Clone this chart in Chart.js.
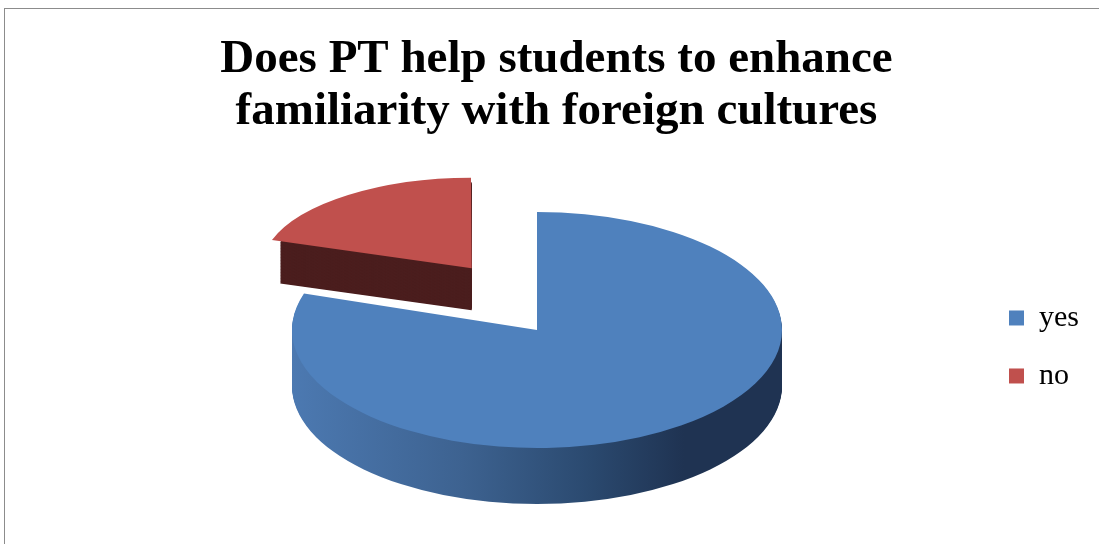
<!DOCTYPE html>
<html>
<head>
<meta charset="utf-8">
<script src="https://cdn.jsdelivr.net/npm/chart.js@4.4.1/dist/chart.umd.min.js"></script>
<style>
    html, body { margin: 0; padding: 0; background: #ffffff; }
    #wrap { position: relative; width: 1099px; height: 544px; overflow: hidden; }
    #frame {
        position: absolute; left: 4px; top: 8px; width: 1100px; height: 560px;
        border-left: 1px solid #8c8c8c; border-top: 1px solid #8c8c8c;
        pointer-events: none;
    }
</style>
</head>
<body>
<div id="wrap">
    <canvas id="pieChart" width="1099" height="544"></canvas>
    <div id="frame"></div>
</div>
<script>
// chart data
const categories = ['yes', 'no'];
const values = [80, 20];
const titleLines = ['Does PT help students to enhance', 'familiarity with foreign cultures'];

const topColors = ['#4f81bd', '#c0504d'];

// where the tilted pie sits on the page (screen px)
const PIE = { cx: 537, cy: 330, rx: 245, ry: 118, depth: 56 };
// the pulled-out slice sits further back, so it is drawn a bit smaller
const PERSP = [null, { kx: 0.84, ky: 0.75, vx: 460, vy: 208 }];

// fake 3d: squash the pie into an ellipse and paint a wall under each slice
const pie3d = {
    id: 'pie3d',
    beforeDatasetsDraw(chart) {
        const ctx = chart.ctx;
        const arcs = chart.getDatasetMeta(0).data;
        const a0 = arcs[0];
        const sx = PIE.rx / a0.outerRadius;
        const sy = PIE.ry / a0.outerRadius;
        const toFace = (c) => {
            c.translate(PIE.cx, PIE.cy);
            c.scale(sx, sy);
            c.translate(-a0.x, -a0.y);
        };
        const persp = (c, i) => {
            const p = PERSP[i];
            if (!p) return;
            c.translate(p.vx, p.vy);
            c.scale(p.kx, p.ky);
            c.translate(-p.vx, -p.vy);
        };

        const blueWall = ctx.createLinearGradient(PIE.cx - PIE.rx, 0, PIE.cx + PIE.rx, 0);
        blueWall.addColorStop(0, '#4c79b1');
        blueWall.addColorStop(0.35, '#3d6290');
        blueWall.addColorStop(0.6, '#2b4a70');
        blueWall.addColorStop(0.8, '#1f3352');
        blueWall.addColorStop(1, '#1f3352');
        const wallColors = [blueWall, '#4b1e1e'];

        // back slice first, then the front one
        [1, 0].forEach(i => {
            const arc = arcs[i];
            const off = (arc.options.offset || 0) / 4;
            const mid = (arc.startAngle + arc.endAngle) / 2;
            const fix = 1 - Math.sin(Math.min(Math.PI, arc.circumference || 0));
            const r = arc.outerRadius - off * fix;
            for (let d = PIE.depth; d > 0; d--) {
                ctx.save();
                persp(ctx, i);
                ctx.translate(0, d);
                toFace(ctx);
                ctx.translate(Math.cos(mid) * off, Math.sin(mid) * off);
                ctx.beginPath();
                ctx.moveTo(arc.x, arc.y);
                ctx.arc(arc.x, arc.y, r, arc.startAngle, arc.endAngle);
                ctx.closePath();
                ctx.restore();
                ctx.fillStyle = wallColors[i];
                ctx.fill();
            }
            // top face, drawn by the arc element itself
            ctx.save();
            persp(ctx, i);
            toFace(ctx);
            arc.draw(ctx);
            ctx.restore();
        });
        return false;
    }
};

const pieCtx = document.getElementById('pieChart').getContext('2d');

new Chart(pieCtx, {
    type: 'pie',
    data: {
        labels: categories,
        datasets: [{
            data: values,
            backgroundColor: topColors,
            borderWidth: 0,
            offset: [0, 184], // pulls the "no" slice out
            clip: false
        }]
    },
    options: {
        responsive: false,
        animation: false,
        events: [],
        layout: {
            padding: { left: 24, top: 0, right: 10, bottom: 0 }
        },
        plugins: {
            title: {
                display: true,
                text: titleLines,
                color: '#000000',
                font: { family: "'Liberation Serif', 'Times New Roman', serif", size: 47, weight: 'bold', lineHeight: 1.106 },
                padding: { top: 34, bottom: 12 }
            },
            legend: {
                position: 'right',
                fullSize: false,
                labels: {
                    color: '#000000',
                    boxWidth: 15,
                    boxHeight: 15,
                    padding: 28,
                    font: { family: "'Liberation Serif', 'Times New Roman', serif", size: 30 }
                }
            },
            tooltip: { enabled: false }
        }
    },
    plugins: [pie3d]
});
</script>
</body>
</html>
